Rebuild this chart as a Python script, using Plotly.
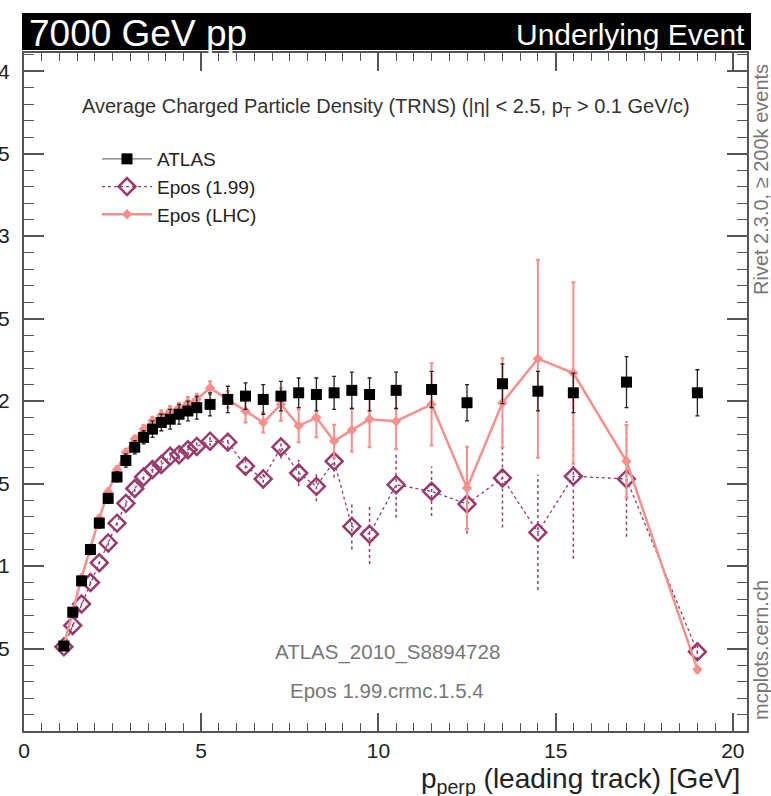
import plotly.graph_objects as go

# ---------------- data ----------------
pt_lead = [1.125, 1.375, 1.625, 1.875, 2.125, 2.375, 2.625, 2.875, 3.125, 3.375,
           3.625, 3.875, 4.125, 4.375, 4.625, 4.875, 5.25, 5.75, 6.25, 6.75,
           7.25, 7.75, 8.25, 8.75, 9.25, 9.75, 10.5, 11.5, 12.5, 13.5,
           14.5, 15.5, 17.0, 19.0]

atlas = [0.515, 0.72, 0.91, 1.10, 1.26, 1.41, 1.54, 1.64, 1.72, 1.78,
         1.83, 1.87, 1.89, 1.92, 1.94, 1.96, 1.98, 2.01, 2.03, 2.01,
         2.03, 2.05, 2.04, 2.05, 2.065, 2.04, 2.065, 2.07, 1.99, 2.105,
         2.06, 2.05, 2.115, 2.05]
atlas_err = [0.02, 0.02, 0.02, 0.03, 0.03, 0.03, 0.03, 0.04, 0.04, 0.04,
             0.05, 0.05, 0.06, 0.06, 0.06, 0.07, 0.07, 0.08, 0.08, 0.09,
             0.09, 0.09, 0.10, 0.10, 0.11, 0.10, 0.11, 0.11, 0.11, 0.12,
             0.12, 0.12, 0.155, 0.14]

epos199 = [0.51, 0.64, 0.77, 0.90, 1.02, 1.14, 1.26, 1.38, 1.47, 1.54,
           1.585, 1.615, 1.665, 1.675, 1.705, 1.725, 1.757, 1.751, 1.605, 1.528,
           1.722, 1.564, 1.483, 1.635, 1.24, 1.193, 1.493, 1.453, 1.376, 1.534,
           1.204, 1.544, 1.528, 0.48]
epos199_err = [0.01, 0.01, 0.01, 0.01, 0.01, 0.015, 0.015, 0.02, 0.02, 0.02,
               0.02, 0.025, 0.025, 0.03, 0.03, 0.03, 0.03, 0.04, 0.05, 0.06,
               0.07, 0.08, 0.09, 0.10, 0.14, 0.18, 0.20, 0.15, 0.18, 0.30,
               0.35, 0.50, 0.35, 0.05]

eposlhc = [0.52, 0.73, 0.93, 1.11, 1.29, 1.45, 1.585, 1.69, 1.77, 1.83,
           1.88, 1.915, 1.94, 1.96, 1.99, 2.01, 2.08, 2.01, 1.94, 1.87,
           1.98, 1.85, 1.90, 1.757, 1.824, 1.89, 1.878, 1.98, 1.473, 1.99,
           2.257, 2.17, 1.635, 0.373]
eposlhc_err = [0.01, 0.01, 0.01, 0.015, 0.015, 0.02, 0.02, 0.02, 0.02, 0.025,
               0.025, 0.03, 0.03, 0.03, 0.035, 0.035, 0.04, 0.05, 0.07, 0.06,
               0.10, 0.10, 0.12, 0.10, 0.13, 0.17, 0.17, 0.25, 0.25, 0.27,
               0.60, 0.55, 0.22, 0.02]

y_tickvals = [0.5, 1, 1.5, 2, 2.5, 3, 3.5, 4]
y_ticktext = ["0.5", "1", "1.5", "2", "2.5", "3", "3.5", "4"]
x_tickvals = [0, 5, 10, 15, 20]
x_ticktext = ["0", "5", "10", "15", "20"]

# ---------------- style ----------------
W, H = 771, 796
L, R, T, B = 24, 24, 53, 65
FONT = "Liberation Sans, Arial, sans-serif"
C_ATLAS = "black"
C_199 = "#9a3a6c"
C_LHC = "#f7908c"

pw = W - L - R
ph = H - T - B


def px(xp):
    return (xp - L) / pw


def py(yp):
    return (H - B - yp) / ph


fig = go.Figure()

# legend entry for ATLAS (line + marker, as in the reference legend)
fig.add_trace(go.Scatter(
    x=[None], y=[None], name="ATLAS", mode="lines+markers",
    line=dict(color="#777", width=1.3),
    marker=dict(symbol="square", size=11, color=C_ATLAS),
    legendgroup="a", legendrank=1))

# Epos 1.99 dotted error bars (segments from data)
ex, ey = [], []
for x, v, e in zip(pt_lead, epos199, epos199_err):
    ex += [x, x, None]
    ey += [v - e, v + e, None]
fig.add_trace(go.Scatter(x=ex, y=ey, mode="lines", showlegend=False,
                         line=dict(color=C_199, width=1.5, dash="dot"),
                         hoverinfo="skip"))

fig.add_trace(go.Scatter(
    x=pt_lead, y=epos199, name="Epos (1.99)", mode="lines+markers",
    line=dict(color=C_199, width=1.3, dash="dot"),
    marker=dict(symbol="diamond-open", size=13, color=C_199,
                line=dict(width=2.5, color=C_199)),
    legendgroup="b", legendrank=2))

fig.add_trace(go.Scatter(
    x=pt_lead, y=eposlhc, name="Epos (LHC)", mode="lines+markers",
    line=dict(color=C_LHC, width=2.5),
    marker=dict(symbol="diamond", size=8, color=C_LHC),
    error_y=dict(type="data", array=eposlhc_err, color=C_LHC, thickness=2, width=2),
    legendgroup="c", legendrank=3))

fig.add_trace(go.Scatter(
    x=pt_lead, y=atlas, name="ATLAS", mode="markers", showlegend=False,
    marker=dict(symbol="square", size=11, color=C_ATLAS),
    error_y=dict(type="data", array=atlas_err, color="#222", thickness=1.3, width=2)))

axis_common = dict(
    showgrid=False, zeroline=False, showline=True, linecolor="#555", linewidth=2,
    mirror="ticks", ticks="inside", tickcolor="#555", tickwidth=1.5,
    tickfont=dict(family=FONT, size=21, color="#222"),
)

fig.update_xaxes(range=[0, 20.4], tickvals=x_tickvals, ticktext=x_ticktext,
                 ticklen=18, ticklabelstandoff=0,
                 minor=dict(dtick=0.5, ticklen=8, ticks="inside", tickcolor="#555", tickwidth=1.2),
                 **axis_common)
fig.update_yaxes(range=[0, 4.11], tickvals=y_tickvals, ticktext=y_ticktext,
                 ticklen=20, ticklabelstandoff=8,
                 minor=dict(dtick=0.1, ticklen=10, ticks="inside", tickcolor="#555", tickwidth=1.2),
                 **axis_common)

shapes = [dict(type="rect", xref="paper", yref="paper",
               x0=px(22), x1=px(751), y0=py(50), y1=py(13),
               fillcolor="black", line=dict(width=0), layer="above")]

ann = []


def add_text(text, xp, yp, size, color="#444", xanchor="center", yanchor="middle", angle=0):
    ann.append(dict(text=text, x=px(xp), y=py(yp), xref="paper", yref="paper",
                    showarrow=False, xanchor=xanchor, yanchor=yanchor, textangle=angle,
                    borderpad=0,
                    font=dict(family=FONT, size=size, color=color)))


add_text("7000 GeV pp", 28, 33, 37, "white", xanchor="left")
add_text("Underlying Event", 746, 34, 30, "white", xanchor="right")
add_text("Average Charged Particle Density (TRNS) (|η| < 2.5, p<sub>T</sub> > 0.1 GeV/c)",
         386, 107, 20, "#333")
add_text("ATLAS_2010_S8894728", 387, 652, 20.5, "#777")
add_text("Epos 1.99.crmc.1.5.4", 387, 690, 20.5, "#777")
add_text("Rivet 2.3.0, ≥ 200k events", 761, 180, 20, "#777", angle=-90)
add_text("mcplots.cern.ch", 761, 650, 20, "#777", angle=-90)
add_text("p<sub>perp</sub> (leading track) [GeV]", 741, 799, 28, "#222",
         xanchor="right", yanchor="bottom")

fig.update_layout(
    width=W, height=H, margin=dict(l=L, r=R, t=T, b=B, autoexpand=False),
    paper_bgcolor="white", plot_bgcolor="white",
    shapes=shapes, annotations=ann,
    showlegend=True,
    legend=dict(x=px(97), y=py(140), xanchor="left", yanchor="top",
                bgcolor="rgba(0,0,0,0)", font=dict(family=FONT, size=19, color="#222"),
                tracegroupgap=0, itemwidth=50),
)

fig.write_html("out.html")
